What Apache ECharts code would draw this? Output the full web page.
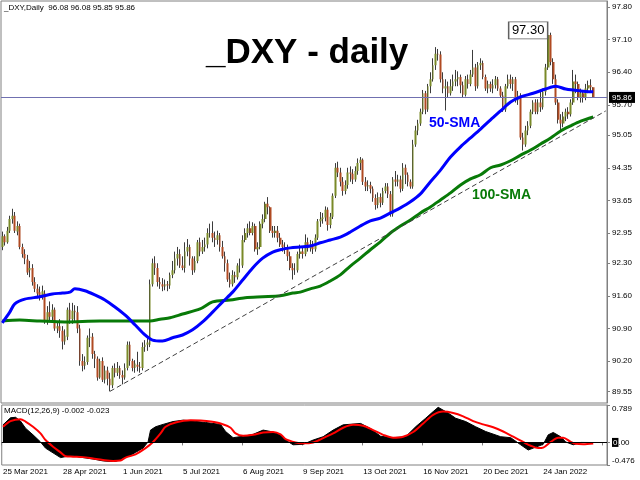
<!DOCTYPE html>
<html><head><meta charset="utf-8">
<script src="https://cdn.jsdelivr.net/npm/echarts@6/dist/echarts.min.js"></script>
<style>html,body{margin:0;padding:0;background:#fff}#c{width:640px;height:480px}</style>
</head><body><div id="c"></div>
<script>
// ---- data ----
const firstDay = '2021-03-25';
const lastDay = '2022-02-21';
const closedDays = ['2021-12-24'];
const emptySlots = 5; // chart shift on the right
const priceTicks = [89.55, 90.20, 90.90, 91.60, 92.30, 92.95, 93.65, 94.35, 95.05, 95.70, 96.40, 97.10, 97.80];
const macdTicks = [-0.476, 0, 0.789];
const lastPrice = 95.86;
const peakHigh = [218, 97.30];
const trendStart = [43, 89.55];
const trendEnd = [241, 95.57];
// [open, close, low, high]
const candles = [
[92.65,92.88,92.58,92.98],[92.88,92.75,92.68,92.92],[92.75,93.00,92.72,93.08],[93.00,93.25,92.95,93.32],[93.25,93.32,93.15,93.47],
[93.32,93.00,92.95,93.40],[92.98,93.10,92.90,93.20],[93.10,92.65,92.60,93.15],[92.65,92.50,92.42,92.72],[92.50,92.40,92.28,92.60],
[92.38,92.10,92.05,92.48],[92.15,92.20,92.00,92.35],[92.20,91.90,91.82,92.28],[91.90,91.75,91.68,92.00],[91.75,91.65,91.55,91.85],
[91.68,91.62,91.50,91.80],[91.62,91.70,91.52,91.82],[91.65,91.05,91.00,91.72],[91.05,91.25,90.98,91.38],[91.25,91.15,91.05,91.48],
[91.15,91.30,91.05,91.42],[91.30,90.90,90.85,91.35],[90.90,90.95,90.80,91.05],[90.95,90.85,90.70,91.10],[90.85,90.62,90.45,90.95],
[90.62,90.75,90.55,90.88],[90.72,91.30,90.65,91.35],[91.30,91.10,91.00,91.45],[91.10,91.28,91.00,91.45],[91.28,91.25,91.05,91.40],
[91.25,90.90,90.80,91.38],[90.90,90.20,90.10,90.98],[90.20,90.10,89.98,90.35],[90.10,90.18,90.02,90.30],[90.18,90.70,90.12,90.75],
[90.70,90.72,90.50,90.90],[90.72,90.35,90.25,90.80],[90.35,90.25,90.05,90.42],[90.25,89.85,89.78,90.30],[89.85,90.20,89.82,90.25],
[90.20,89.80,89.75,90.28],[89.80,90.00,89.72,90.10],[90.00,89.82,89.68,90.08],[89.82,89.68,89.55,89.95],[89.68,90.05,89.62,90.10],
[90.05,89.95,89.85,90.15],[89.95,90.05,89.88,90.18],[90.05,89.90,89.82,90.10],[89.90,89.85,89.70,90.00],[89.85,90.05,89.80,90.15],
[90.05,90.55,90.00,90.62],[90.55,90.20,90.10,90.62],[90.20,90.05,89.98,90.25],[90.05,90.15,89.95,90.22],[90.12,90.08,89.98,90.40],
[90.08,90.05,89.95,90.18],[90.05,90.50,90.00,90.60],[90.50,90.55,90.40,90.65],[90.55,90.60,90.42,90.72],[90.55,91.85,90.50,91.95],
[91.85,92.30,91.80,92.40],[92.30,92.20,92.05,92.45],[92.20,91.90,91.80,92.30],[91.90,91.85,91.75,92.00],[91.85,91.80,91.70,91.98],
[91.80,91.85,91.72,91.95],[91.85,91.82,91.70,91.92],[91.82,92.05,91.75,92.10],[92.05,92.15,91.98,92.35],[92.15,92.40,92.08,92.55],
[92.40,92.50,92.25,92.65],[92.50,92.25,92.20,92.60],[92.25,92.20,92.15,92.45],[92.20,92.55,92.10,92.75],[92.55,92.65,92.45,92.82],
[92.65,92.40,92.25,92.70],[92.40,92.15,92.05,92.45],[92.15,92.35,92.10,92.45],[92.35,92.75,92.30,92.80],[92.75,92.55,92.45,92.85],
[92.55,92.65,92.50,92.80],[92.65,92.70,92.55,92.85],[92.70,92.95,92.62,93.05],[92.95,92.95,92.85,93.15],[92.95,92.85,92.75,93.20],
[92.85,92.80,92.65,92.98],[92.80,92.90,92.70,93.00],[92.90,92.65,92.55,92.95],[92.65,92.45,92.40,92.78],[92.45,92.30,92.12,92.55],
[92.30,91.95,91.90,92.38],[91.95,91.85,91.78,92.10],[91.85,92.05,91.80,92.15],[92.05,92.00,91.88,92.12],[92.00,92.25,91.95,92.30],
[92.25,92.25,92.10,92.40],[92.25,92.80,92.20,92.90],[92.80,92.95,92.75,93.05],[92.95,93.05,92.85,93.15],[93.05,92.95,92.90,93.20],
[92.95,93.10,92.90,93.18],[93.10,92.60,92.55,93.15],[92.60,92.65,92.48,92.75],[92.65,93.15,92.60,93.20],[93.15,93.25,93.05,93.35],
[93.25,93.58,93.18,93.62],[93.58,93.50,93.35,93.72],[93.50,93.00,92.95,93.52],[93.00,92.95,92.85,93.10],[92.95,93.00,92.85,93.10],
[93.00,92.85,92.75,93.10],[92.85,92.70,92.65,92.95],[92.70,92.65,92.55,92.80],[92.65,92.60,92.50,92.75],[92.60,92.45,92.35,92.70],
[92.45,92.20,92.15,92.55],[92.20,92.15,91.95,92.30],[92.15,92.15,92.05,92.30],[92.15,92.50,92.10,92.55],[92.50,92.55,92.40,92.70],
[92.55,92.50,92.40,92.65],[92.50,92.75,92.45,92.92],[92.75,92.62,92.55,92.85],[92.62,92.70,92.55,92.80],[92.70,92.60,92.50,92.78],
[92.60,92.85,92.55,92.92],[92.85,93.20,92.80,93.25],[93.20,93.25,93.08,93.40],[93.25,93.28,93.15,93.38],[93.28,93.45,93.20,93.52],
[93.45,93.12,93.00,93.50],[93.12,93.30,93.05,93.38],[93.30,93.75,93.25,93.80],[93.75,94.35,93.70,94.45],[94.35,94.25,94.15,94.48],
[94.25,94.05,93.95,94.35],[94.05,93.85,93.75,94.15],[93.85,93.98,93.78,94.08],[93.98,94.25,93.90,94.35],[94.25,94.22,94.05,94.38],
[94.22,94.10,94.00,94.32],[94.10,94.28,94.05,94.38],[94.28,94.45,94.20,94.55],[94.45,94.52,94.30,94.58],[94.52,94.05,93.98,94.55],
[94.05,93.95,93.85,94.15],[93.95,93.98,93.85,94.08],[93.98,93.90,93.80,94.05],[93.90,93.70,93.62,93.95],[93.70,93.55,93.45,93.78],
[93.55,93.72,93.48,93.82],[93.72,93.60,93.50,93.80],[93.60,93.85,93.55,93.92],[93.85,93.95,93.80,94.02],[93.95,93.78,93.70,94.02],
[93.78,93.35,93.30,93.85],[93.35,94.10,93.30,94.15],[94.10,94.05,93.95,94.28],[94.05,94.10,93.95,94.20],[94.10,93.90,93.82,94.18],
[93.90,94.35,93.85,94.45],[94.35,94.20,94.00,94.42],[94.20,94.05,93.95,94.25],[94.05,93.95,93.90,94.10],[93.95,94.85,93.90,94.95],
[94.85,95.15,94.80,95.25],[95.15,95.30,95.05,95.38],[95.30,95.55,95.25,95.62],[95.55,95.95,95.50,96.02],[95.95,95.60,95.50,96.00],
[95.60,96.10,95.55,96.15],[96.10,96.25,95.95,96.40],[96.25,96.55,96.20,96.70],[96.55,96.80,96.45,96.94],[96.80,96.78,96.65,96.90],
[96.78,96.25,96.18,96.85],[96.25,96.05,95.95,96.40],[96.05,96.10,95.58,96.25],[96.10,95.95,95.85,96.20],[95.95,96.10,95.90,96.25],
[96.10,96.20,96.00,96.35],[96.20,96.25,96.10,96.45],[96.25,96.30,96.10,96.42],[96.30,96.12,95.95,96.35],[96.12,95.92,95.85,96.20],
[95.92,96.25,95.88,96.32],[96.25,96.15,96.05,96.35],[96.15,96.35,96.10,96.45],[96.35,96.50,96.30,96.88],[96.50,96.10,96.00,96.58],
[96.10,96.55,96.05,96.62],[96.55,96.60,96.45,96.70],[96.60,96.30,96.25,96.65],[96.30,96.05,96.00,96.35],[96.05,96.15,95.95,96.22],
[96.15,96.05,95.98,96.20],[96.05,96.12,95.95,96.25],[96.12,96.25,96.05,96.32],[96.25,96.05,96.00,96.30],[96.05,95.90,95.85,96.10],
[95.90,95.60,95.55,95.98],[95.60,96.10,95.55,96.15],[96.10,96.25,96.05,96.35],[96.25,96.15,96.05,96.35],[96.15,96.25,96.00,96.30],
[96.25,95.80,95.75,96.30],[95.80,95.90,95.70,96.00],[95.90,95.00,94.95,95.95],[95.00,94.85,94.72,95.10],[94.85,95.15,94.80,95.25],
[95.15,95.25,95.05,95.35],[95.25,95.55,95.20,95.60],[95.55,95.75,95.50,95.80],[95.75,95.55,95.50,95.82],[95.55,95.75,95.50,95.82],
[95.75,95.65,95.55,96.00],[95.65,95.98,95.60,96.05],[95.98,96.50,95.90,96.58],[96.50,97.20,96.45,97.30],[97.20,96.62,96.55,97.25],
[96.62,96.25,96.15,96.70],[96.25,95.75,95.70,96.35],[95.75,95.38,95.30,95.82],[95.38,95.30,95.15,95.50],[95.30,95.45,95.22,95.55],
[95.45,95.55,95.35,95.62],[95.55,95.50,95.40,95.65],[95.50,95.75,95.45,95.82],[95.75,96.20,95.70,96.45],[96.20,96.15,95.95,96.35],
[96.15,95.85,95.80,96.20],[95.85,95.95,95.75,96.05],[95.95,95.85,95.75,96.02],[95.85,96.05,95.80,96.15],[96.05,96.12,95.95,96.22],
[96.12,96.08,95.98,96.25],[96.08,95.86,95.85,96.08]
];
// [bar index, value] readings of the indicator lines
const sma50 = [[0,91.02],[3,91.25],[5,91.43],[9,91.53],[15,91.58],[20,91.64],[24,91.66],[27,91.68],[29,91.75],[33,91.71],[37,91.62],[41,91.51],[45,91.36],[49,91.19],[53,90.98],[57,90.76],[60,90.65],[64,90.63],[68,90.70],[72,90.76],[76,90.87],[80,91.04],[84,91.25],[88,91.47],[92,91.68],[96,91.94],[100,92.20],[104,92.41],[108,92.54],[111,92.59],[115,92.63],[119,92.65],[123,92.67],[127,92.74],[131,92.80],[135,92.86],[139,92.97],[143,93.10],[147,93.21],[151,93.27],[155,93.38],[159,93.49],[163,93.62],[167,93.79],[171,94.05],[175,94.30],[179,94.58],[183,94.80],[187,94.99],[191,95.18],[195,95.38],[199,95.57],[203,95.76],[207,95.87],[212,95.95],[217,96.04],[221,96.10],[225,96.04],[231,96.00],[236,95.98]];
const sma100 = [[0,91.06],[7,91.08],[15,91.06],[25,91.04],[39,91.06],[47,91.06],[55,91.06],[59,91.06],[63,91.10],[67,91.13],[72,91.21],[79,91.32],[84,91.47],[91,91.51],[97,91.56],[104,91.58],[111,91.60],[116,91.66],[119,91.68],[123,91.75],[127,91.81],[131,91.92],[135,92.05],[139,92.24],[143,92.41],[147,92.59],[151,92.76],[155,92.95],[159,93.10],[163,93.23],[167,93.38],[171,93.51],[175,93.66],[179,93.81],[183,93.98],[187,94.11],[191,94.20],[195,94.35],[199,94.41],[203,94.50],[207,94.62],[211,94.73],[215,94.86],[219,94.99],[223,95.14],[227,95.25],[231,95.35],[236,95.44]];
const macdHist = [[0,0.37],[3,0.52],[5,0.53],[7,0.45],[9,0.30],[12,0.16],[15,0.01],[17,-0.12],[20,-0.22],[23,-0.32],[25,-0.30],[28,-0.28],[32,-0.32],[36,-0.35],[40,-0.39],[43,-0.40],[45,-0.40],[48,-0.34],[51,-0.27],[53,-0.21],[56,-0.12],[58,0.01],[59,0.26],[61,0.33],[64,0.38],[68,0.44],[72,0.47],[76,0.45],[81,0.42],[87,0.38],[89,0.23],[92,0.10],[96,0.13],[100,0.17],[104,0.26],[107,0.23],[111,0.16],[113,0.05],[116,-0.05],[120,-0.04],[124,0.05],[128,0.12],[132,0.26],[136,0.37],[143,0.40],[147,0.29],[151,0.13],[156,0.10],[161,0.12],[165,0.33],[169,0.51],[172,0.65],[174,0.74],[178,0.62],[181,0.51],[185,0.44],[189,0.33],[193,0.23],[199,0.12],[203,0.10],[207,-0.05],[210,-0.16],[212,-0.12],[216,-0.04],[218,0.16],[220,0.21],[223,0.12],[225,0.01],[228,-0.05],[231,0.00],[236,-0.002]];
const macdSignal = [[0,0.33],[3,0.45],[7,0.49],[9,0.44],[12,0.33],[15,0.19],[17,0.05],[20,-0.09],[23,-0.21],[25,-0.29],[28,-0.30],[32,-0.31],[36,-0.34],[40,-0.37],[44,-0.39],[47,-0.38],[49,-0.32],[53,-0.25],[57,-0.12],[60,0.01],[63,0.19],[65,0.33],[69,0.42],[75,0.47],[79,0.46],[83,0.44],[87,0.40],[91,0.31],[93,0.19],[96,0.14],[100,0.16],[104,0.21],[108,0.22],[111,0.17],[113,0.07],[117,0.00],[120,-0.02],[124,0.00],[128,0.09],[132,0.19],[136,0.31],[140,0.37],[144,0.35],[148,0.26],[152,0.16],[156,0.10],[160,0.12],[164,0.22],[168,0.40],[172,0.58],[176,0.65],[180,0.62],[184,0.55],[188,0.45],[192,0.38],[196,0.32],[200,0.23],[204,0.12],[208,0.01],[211,-0.07],[214,-0.12],[216,-0.11],[219,0.01],[222,0.10],[224,0.10],[227,0.01],[229,-0.03],[232,-0.04],[236,-0.023]];

// ---- trading-day calendar ----
const categories = [];
(function(){
  const d = new Date(firstDay + 'T00:00:00Z'), end = new Date(lastDay + 'T00:00:00Z');
  while (d <= end) {
    const wd = d.getUTCDay(), s = d.toISOString().slice(0,10);
    if (wd !== 0 && wd !== 6 && closedDays.indexOf(s) < 0) categories.push(s);
    d.setUTCDate(d.getUTCDate() + 1);
  }
  for (let k = 0; k < emptySlots; k++) categories.push('');
})();
const MON = ['Jan','Feb','Mar','Apr','May','Jun','Jul','Aug','Sep','Oct','Nov','Dec'];
function fmtDate(s){ if(!s) return ''; const p = s.split('-'); return (+p[2]) + ' ' + MON[+p[1]-1] + ' ' + p[0]; }

const FONT = "'Liberation Sans', Arial, sans-serif";
const chart = echarts.init(document.getElementById('c'), null, {renderer:'canvas'});
chart.setOption({
  animation: false,
  backgroundColor: '#fff',
  textStyle: {fontFamily: FONT},
  title: [
    {text: '_DXY,Daily  96.08 96.08 95.85 95.86', left: 4, top: 4, padding: 0, textStyle: {fontSize: 8, fontWeight: 'normal', color: '#000', fontFamily: FONT}},
    {text: '_DXY - daily', left: 206, top: 36, padding: 0, textStyle: {fontSize: 35, fontWeight: 'bold', color: '#000', fontFamily: FONT}},
    {text: '50-SMA', left: 429, top: 116, padding: 0, textStyle: {fontSize: 14, fontWeight: 'bold', color: '#0000ff', fontFamily: FONT}},
    {text: '100-SMA', left: 472, top: 188, padding: 0, textStyle: {fontSize: 14, fontWeight: 'bold', color: '#087a08', fontFamily: FONT}},
    {text: 'MACD(12,26,9) -0.002 -0.023', left: 4, top: 407, padding: 0, textStyle: {fontSize: 8, fontWeight: 'normal', color: '#000', fontFamily: FONT}}
  ],
  grid: [
    {left: 1, right: 33, top: 1, height: 402, show: true, borderColor: '#808080', borderWidth: 1},
    {left: 1, right: 33, top: 405, height: 60, show: true, borderColor: '#808080', borderWidth: 1}
  ],
  xAxis: [
    {type: 'category', gridIndex: 0, data: categories, boundaryGap: true,
     axisLine: {show: false}, axisTick: {show: false}, axisLabel: {show: false}, splitLine: {show: false}},
    {type: 'category', gridIndex: 1, data: categories, boundaryGap: true,
     axisLine: {show: false},
     axisTick: {show: true, interval: 23, length: 3, lineStyle: {color: '#808080'}},
     axisLabel: {show: true, interval: 23, formatter: fmtDate, align: 'left', fontSize: 8, color: '#000', margin: 3, fontFamily: FONT, hideOverlap: false},
     splitLine: {show: false}}
  ],
  yAxis: [
    {type: 'value', gridIndex: 0, position: 'right', min: 89.30, max: 97.93,
     axisLine: {show: true, lineStyle: {color: '#808080'}},
     axisTick: {show: true, customValues: priceTicks, length: 3, lineStyle: {color: '#808080'}},
     axisLabel: {customValues: priceTicks, formatter: v => v.toFixed(2), fontSize: 8, color: '#000', margin: 5, fontFamily: FONT},
     splitLine: {show: false}},
    {type: 'value', gridIndex: 1, position: 'right', min: -0.476, max: 0.789,
     axisLine: {show: true, lineStyle: {color: '#808080'}},
     axisTick: {show: true, customValues: macdTicks, length: 3, lineStyle: {color: '#808080'}},
     axisLabel: {customValues: macdTicks, fontSize: 8, color: '#000', margin: 5, fontFamily: FONT,
       verticalAlignMinLabel: 'bottom', verticalAlignMaxLabel: 'top',
       formatter: v => v === 0 ? '{z|0}.00' : String(v),
       rich: {z: {backgroundColor: '#000', color: '#fff', fontSize: 8, padding: [1, 1, 0, 1], fontFamily: FONT}}},
     splitLine: {show: false}}
  ],
  series: [
    {type: 'candlestick', name: 'wicks', xAxisIndex: 0, yAxisIndex: 0, data: candles, barWidth: 1, z: 2,
     itemStyle: {color: '#3c3c3c', color0: '#3c3c3c', borderColor: '#3c3c3c', borderColor0: '#3c3c3c', borderWidth: 1}},
    {type: 'candlestick', name: 'DXY', xAxisIndex: 0, yAxisIndex: 0, data: candles, barWidth: 2.2, z: 3,
     itemStyle: {color: '#7a8a28', color0: '#b04a22', borderColor: 'rgba(0,0,0,0)', borderColor0: 'rgba(0,0,0,0)', borderWidth: 0},
     markLine: {silent: true, symbol: ['none', 'none'], animation: false,
       data: [
         {yAxis: lastPrice, lineStyle: {color: '#7070b0', width: 1, type: 'solid'},
          label: {show: true, position: 'end', formatter: lastPrice.toFixed(2), backgroundColor: '#000', color: '#fff', fontSize: 8, padding: [2, 3, 1, 3], distance: 2, fontFamily: FONT}},
         [{coord: trendStart, lineStyle: {color: '#404040', width: 1, type: [5, 3]}, label: {show: false}}, {coord: trendEnd}]
       ]},
     markPoint: {silent: true, animation: false,
       data: [{coord: peakHigh, symbol: 'rect', symbolSize: [39, 17], symbolOffset: [-20, 0],
         itemStyle: {color: '#fff', borderColor: '#606060', borderWidth: 1},
         label: {show: true, position: 'inside', formatter: peakHigh[1].toFixed(2), color: '#000', fontSize: 13, fontFamily: FONT}}]}},
    {type: 'line', name: '100-SMA', xAxisIndex: 0, yAxisIndex: 0, data: sma100, showSymbol: false, smooth: 0.3, z: 4,
     lineStyle: {color: '#087a08', width: 3}},
    {type: 'line', name: '50-SMA', xAxisIndex: 0, yAxisIndex: 0, data: sma50, showSymbol: false, smooth: 0.3, z: 5,
     lineStyle: {color: '#0000ff', width: 3}},
    {type: 'line', name: 'MACD', xAxisIndex: 1, yAxisIndex: 1, data: macdHist, showSymbol: false, z: 2,
     lineStyle: {color: '#000', width: 1}, areaStyle: {color: '#000', opacity: 1},
     markLine: {silent: true, symbol: ['none', 'none'], label: {show: false}, lineStyle: {color: '#000', width: 1, type: 'solid'}, data: [{yAxis: 0}]}},
    {type: 'line', name: 'Signal', xAxisIndex: 1, yAxisIndex: 1, data: macdSignal, showSymbol: false, smooth: 0.3, z: 3,
     lineStyle: {color: '#ff0000', width: 2}}
  ]
});
</script>
</body></html>
